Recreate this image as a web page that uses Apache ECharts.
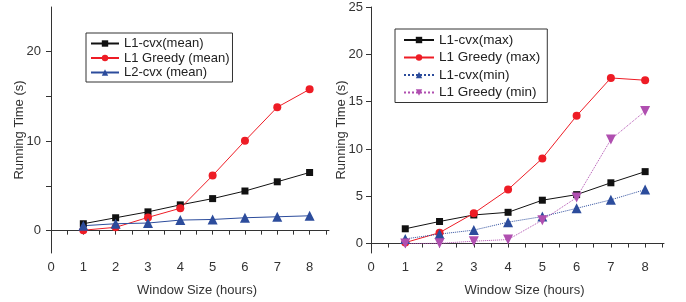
<!DOCTYPE html>
<html>
<head>
<meta charset="utf-8">
<script src="https://cdn.jsdelivr.net/npm/echarts@6/dist/echarts.min.js"></script>
<style>
  html, body { margin: 0; padding: 0; background: #fff; }
  #main { width: 686px; height: 302px; }
</style>
</head>
<body>
<div id="main"></div>
<script>
var windowSizes = [1, 2, 3, 4, 5, 6, 7, 8];

// left panel: mean running time
var l1CvxMean = [0.77, 1.44, 2.1, 2.88, 3.58, 4.43, 5.46, 6.5];
var l1GreedyMean = [0.05, 0.37, 1.48, 2.5, 6.16, 10.04, 13.8, 15.8];
var l2CvxMean = [0.55, 0.77, 0.85, 1.18, 1.25, 1.44, 1.55, 1.66];

// right panel: max / min running time
var l1CvxMax = [1.56, 2.33, 3.02, 3.3, 4.58, 5.17, 6.42, 7.6];
var l1GreedyMax = [0.1, 1.15, 3.2, 5.7, 9.0, 13.5, 17.5, 17.26];
var l1CvxMin = [0.49, 1.0, 1.42, 2.26, 2.85, 3.72, 4.62, 5.7];
var l1GreedyMin = [0.0, 0.02, 0.25, 0.42, 2.47, 4.86, 11.0, 14.0];

var xLabels = [0, 1, 2, 3, 4, 5, 6, 7, 8];
var xTicks = [0, 0.5, 1, 1.5, 2, 2.5, 3, 3.5, 4, 4.5, 5, 5.5, 6, 6.5, 7, 7.5, 8, 8.5];
var leftYLabels = [0, 10, 20];
var leftYTicks = [0, 5, 10, 15, 20];
var rightYLabels = [0, 5, 10, 15, 20, 25];

function pairs(ys) {
    return windowSizes.map(function (x, i) { return [x, ys[i]]; });
}

var axisCol = '#333';
var font = 'Liberation Sans, Arial, sans-serif';

var dom = document.getElementById('main');
var myChart = echarts.init(dom);

function xAxisFor(gi, max) {
    return {
        type: 'value', gridIndex: gi, min: 0, max: max,
        name: 'Window Size (hours)', nameLocation: 'middle', nameGap: 31, nameMoveOverlap: false,
        nameTextStyle: { fontFamily: font, fontSize: 13, color: '#333', padding: [0, 0, 0, 14] },
        axisLine: { show: true, lineStyle: { color: axisCol, width: 1 } },
        axisTick: { show: true, length: 4, customValues: xTicks, lineStyle: { color: axisCol } },
        axisLabel: { customValues: xLabels, fontFamily: font, fontSize: 13, color: '#333', margin: 8 },
        splitLine: { show: false }
    };
}

var sym = { square: 'rect', circle: 'circle', up: 'triangle', down: 'path://M0,0 L10,0 L5,9 Z' };

function line(name, data, color, symbol, size, dotted, xi, yi) {
    return {
        name: name, type: 'line', xAxisIndex: xi, yAxisIndex: yi,
        data: pairs(data), symbol: symbol, symbolSize: size,
        itemStyle: { color: color },
        lineStyle: { color: color, width: 1, type: dotted ? 'dotted' : 'solid' },
        animation: false
    };
}

var option = {
    animation: false,
    textStyle: { fontFamily: font },
    grid: [
        { left: 51, top: 7, width: 278, height: 249 },
        { left: 371, top: 7, width: 293, height: 249 }
    ],
    xAxis: [xAxisFor(0, 8.6), xAxisFor(1, 8.55)],
    yAxis: [
        {
            type: 'value', gridIndex: 0, min: -2.5, max: 25,
            name: 'Running Time (s)', nameLocation: 'middle', nameGap: 25, nameMoveOverlap: false,
            nameTextStyle: { fontFamily: font, fontSize: 13, color: '#333' },
            axisLine: { show: true, lineStyle: { color: axisCol } },
            axisTick: { show: true, length: 5, customValues: leftYTicks, lineStyle: { color: axisCol } },
            axisLabel: { customValues: leftYLabels, fontFamily: font, fontSize: 13, color: '#333', margin: 10 },
            splitLine: { show: false }
        },
        {
            type: 'value', gridIndex: 1, min: -1, max: 25,
            name: 'Running Time (s)', nameLocation: 'middle', nameGap: 23, nameMoveOverlap: false,
            nameTextStyle: { fontFamily: font, fontSize: 13, color: '#333' },
            axisLine: { show: true, lineStyle: { color: axisCol } },
            axisTick: { show: true, length: 5, customValues: rightYLabels, lineStyle: { color: axisCol } },
            axisLabel: { customValues: rightYLabels, fontFamily: font, fontSize: 13, color: '#333', margin: 8 },
            splitLine: { show: false }
        }
    ],
    legend: [
        {
            orient: 'vertical', left: 86, top: 33,
            data: ['L1-cvx(mean)', 'L1 Greedy (mean)', 'L2-cvx (mean)'],
            borderColor: '#333', borderWidth: 1, borderRadius: 0,
            padding: [4, 3, 3, 4], itemGap: 1.5, itemWidth: 28, itemHeight: 8,
            textStyle: { fontFamily: font, fontSize: 13, color: '#222' }
        },
        {
            orient: 'vertical', left: 395, top: 29,
            data: ['L1-cvx(max)', 'L1 Greedy (max)', 'L1-cvx(min)', 'L1 Greedy (min)'],
            borderColor: '#333', borderWidth: 1, borderRadius: 0,
            padding: [4, 7, 3, 8], itemGap: 3.5, itemWidth: 30, itemHeight: 8,
            textStyle: { fontFamily: font, fontSize: 13.5, color: '#222' }
        }
    ],
    series: [
        line('L1-cvx(mean)', l1CvxMean, '#111', sym.square, 7, false, 0, 0),
        line('L1 Greedy (mean)', l1GreedyMean, '#ee1c25', sym.circle, 8, false, 0, 0),
        line('L2-cvx (mean)', l2CvxMean, '#2c4c9c', sym.up, 10, false, 0, 0),
        line('L1-cvx(max)', l1CvxMax, '#111', sym.square, 7, false, 1, 1),
        line('L1 Greedy (max)', l1GreedyMax, '#ee1c25', sym.circle, 8, false, 1, 1),
        line('L1-cvx(min)', l1CvxMin, '#2c4c9c', sym.up, 10, true, 1, 1),
        line('L1 Greedy (min)', l1GreedyMin, '#b04fb0', sym.down, 10, true, 1, 1)
    ]
};

if (option && typeof option === 'object') {
    myChart.setOption(option);
}
</script>
</body>
</html>
